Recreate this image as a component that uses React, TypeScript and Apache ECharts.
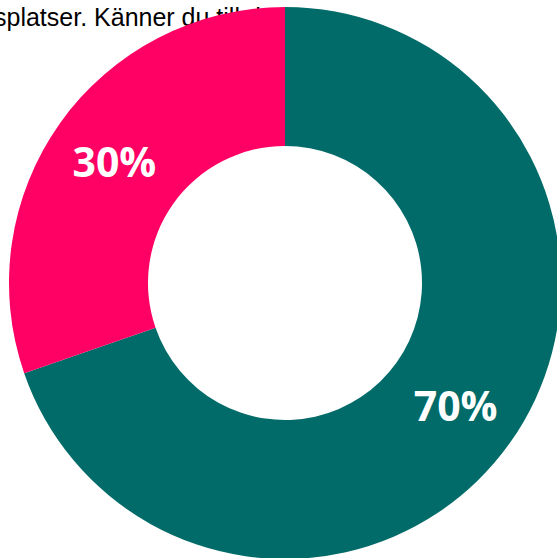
import React, { useEffect, useRef } from "react";
import * as echarts from "echarts";

const categories = ["Ja", "Nej"];
const values = [69.7, 30.3];
const colors = ["#006B68", "#FF0064"];
const titleText = "splatser. Känner du till det?";

export default function App() {
  const ref = useRef<HTMLDivElement>(null);
  useEffect(() => {
    document.body.style.margin = "0";
    const chart = echarts.init(ref.current!, null, { renderer: "svg" });
    chart.setOption({
      animation: false,
      graphic: [
        {
          type: "text",
          z: 0,
          x: -6,
          y: 4,
          style: {
            text: titleText,
            fontFamily: "Liberation Sans, Arial, sans-serif",
            fontSize: 25,
            fill: "#000",
            verticalAlign: "top",
          },
        },
      ],
      series: [
        {
          type: "pie",
          z: 2,
          center: [285, 283],
          radius: [137, 276],
          startAngle: 90,
          clockwise: true,
          avoidLabelOverlap: false,
          label: {
            show: true,
            position: "inside",
            formatter: (p: any) => Math.round(p.value) + "%",
            color: "#fff",
            fontFamily: "Open Sans",
            fontWeight: "bold",
            fontSize: 41,
          },
          labelLine: { show: false },
          itemStyle: { borderWidth: 0 },
          emphasis: { disabled: true },
          data: categories.map((c, i) => ({
            name: c,
            value: values[i],
            itemStyle: { color: colors[i] },
          })),
        },
      ],
    });
    return () => chart.dispose();
  }, []);
  return <div ref={ref} style={{ position: "absolute", left: 0, top: 0, width: 557, height: 558 }} />;
}
